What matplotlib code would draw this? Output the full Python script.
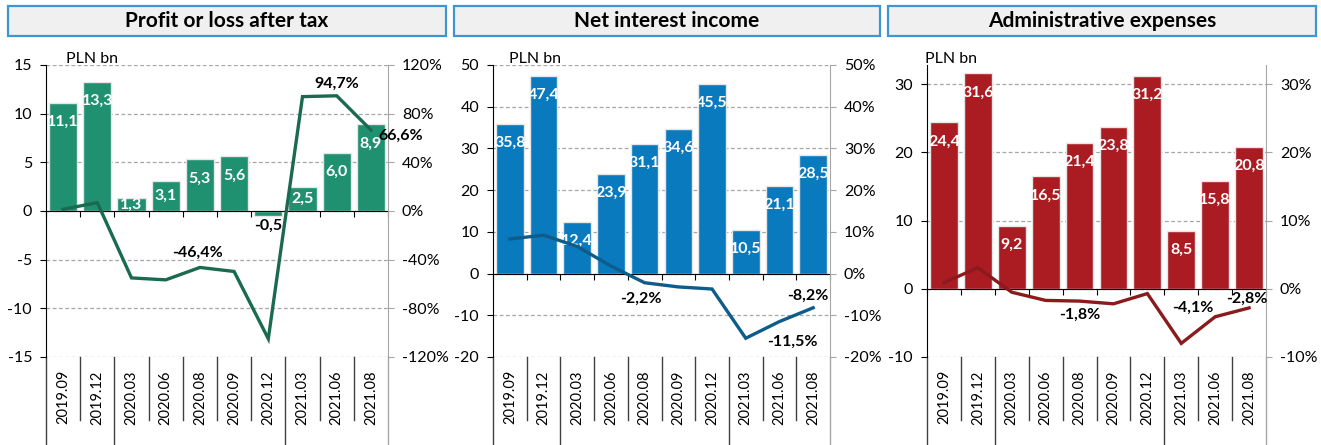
import numpy as np
import matplotlib
matplotlib.use("Agg")
import matplotlib.pyplot as plt
from matplotlib.patches import Rectangle

plt.rcParams['font.family'] = ['Lato', 'DejaVu Sans']

periods = ['2019.09', '2019.12', '2020.03', '2020.06', '2020.08',
           '2020.09', '2020.12', '2021.03', '2021.06', '2021.08']
titles = ['Profit or loss after tax', 'Net interest income', 'Administrative expenses']

profit = [11.1, 13.3, 1.3, 3.1, 5.3, 5.6, -0.5, 2.5, 6.0, 8.9]
profit_yoy = [1.4, 6.9, -55.0, -56.6, -46.4, -49.7, -105.0, 94.0, 94.7, 66.6]

nii = [35.8, 47.4, 12.4, 23.9, 31.1, 34.6, 45.5, 10.5, 21.1, 28.5]
nii_yoy = [8.3, 9.2, 6.5, 1.8, -2.2, -3.2, -3.7, -15.5, -11.5, -8.2]

admin = [24.4, 31.6, 9.2, 16.5, 21.4, 23.8, 31.2, 8.5, 15.8, 20.8]
admin_yoy = [0.9, 3.1, -0.5, -1.7, -1.8, -2.2, -0.7, -8.0, -4.1, -2.8]

# which line points get a label
profit_lbl = [4, 8, 9]
nii_lbl = [4, 8, 9]
admin_lbl = [4, 8, 9]

W, H = 1321, 445
fig = plt.figure(figsize=(W / 100, H / 100), dpi=100)


def fmt(v, pct=False):
    s = f"{v:.1f}".replace('.', ',')
    return s + '%' if pct else s


def panel(n, left_px, right_px, bars, yoy, lbl_idx, lbl_off, ylim, yticks, y2lim, y2ticks,
          bar_col, line_col, box, unit_x):
    top_px, bot_px = 65, 357
    ax = fig.add_axes([left_px / W, (H - bot_px) / H, (right_px - left_px) / W,
                       (bot_px - top_px) / H])
    x = np.arange(len(periods))
    ax.bar(x, bars, width=0.82, color=bar_col, edgecolor='#e6e6e6', linewidth=1.0, zorder=2)
    ax.set_xlim(-0.5, len(periods) - 0.5)
    ax.set_ylim(*ylim)
    ax.set_yticks(yticks)
    ax.set_yticklabels([str(t) for t in yticks])
    ax.tick_params(axis='y', direction='out', length=4, labelsize=11.5, pad=6, color='black')
    ax.yaxis.grid(True, linestyle=(0, (3, 2)), color='#a6a6a6', linewidth=0.9, zorder=0)
    ax.set_axisbelow(True)
    for s in ['top', 'right']:
        ax.spines[s].set_visible(False)
    ax.spines['left'].set_color('black')
    ax.spines['bottom'].set_position(('data', 0))
    ax.spines['bottom'].set_color('black')
    ax.spines['bottom'].set_zorder(4)
    ax.set_xticks(np.arange(-0.5, len(periods), 1.0))
    ax.set_xticklabels([])
    ax.tick_params(axis='x', direction='out', length=4, color='black')

    # category labels and separators below the plot
    tr = ax.get_xaxis_transform()
    for i, p in enumerate(periods):
        ax.text(i, -0.045, p, rotation=90, ha='center', va='top', fontsize=10.5,
                transform=tr, clip_on=False)
    groups = [-0.5, 1.5, 6.5, len(periods) - 0.5]
    for b in np.arange(-0.5, len(periods), 1.0):
        lo = -0.30 if b in groups else -0.216
        col = '#a6a6a6' if b == len(periods) - 0.5 else '#404040'
        ax.plot([b, b], [0, lo], color=col, lw=1.0, transform=tr, clip_on=False)

    # bar labels
    pxu = ax.transData.transform((0, 1))[1] - ax.transData.transform((0, 0))[1]
    for i, v in enumerate(bars):
        if v >= 0:
            off = -min(19, v * pxu / 2)
            ax.annotate(fmt(v), (i, v), xytext=(0, off), textcoords='offset pixels',
                        ha='center', va='center', color='white', fontsize=11.5,
                        fontweight='bold', zorder=5)
        else:
            ax.annotate(fmt(v), (i, v), xytext=(0, -10), textcoords='offset pixels',
                        ha='center', va='center', color='black', fontsize=11.5,
                        fontweight='bold', zorder=5)

    ax2 = ax.twinx()
    ax2.plot(x, yoy, color=line_col, lw=2.4, zorder=3, solid_joinstyle='miter')
    ax2.set_ylim(*y2lim)
    ax2.set_yticks(y2ticks)
    ax2.set_yticklabels([f"{t}%" for t in y2ticks])
    ax2.tick_params(axis='y', direction='out', length=4, labelsize=11.5, pad=6,
                    color='#a6a6a6')
    for s in ['top', 'left', 'bottom']:
        ax2.spines[s].set_visible(False)
    ax2.spines['right'].set_color('#a6a6a6')
    for i, (dx, dy, ha) in zip(lbl_idx, lbl_off):
        ax2.annotate(fmt(yoy[i], True), (i, yoy[i]), xytext=(dx, dy),
                     textcoords='offset pixels', ha=ha, va='center', fontsize=11.5,
                     fontweight='bold', color='black', zorder=6)

    fig.text(unit_x / W, (H - 59) / H, 'PLN bn', fontsize=11.5, ha='left', va='center')

    # title box
    bx0, bx1 = box
    fig.patches.append(Rectangle((bx0 / W, (H - 36) / H), (bx1 - bx0) / W, 30 / H,
                                 transform=fig.transFigure, facecolor='#f0f0f0',
                                 edgecolor='#3f95cf', linewidth=1.6))
    fig.text((bx0 + bx1) / 2 / W, (H - 21) / H, titles[n], ha='center', va='center',
             fontsize=15, fontweight='bold')


panel(0, 46, 388, profit, profit_yoy, profit_lbl,
      [(-2, 15, 'center'), (0, 12, 'center'), (7, -6, 'left')],
      (-15, 15), [-15, -10, -5, 0, 5, 10, 15], (-120, 120),
      [-120, -80, -40, 0, 40, 80, 120], '#1f9070', '#1a6a50', (8, 446), 66)
panel(1, 493, 830, nii, nii_yoy, nii_lbl,
      [(-4, -16, 'center'), (13, -20, 'center'), (-5, 12, 'center')],
      (-20, 50), [-20, -10, 0, 10, 20, 30, 40, 50], (-20, 50),
      [-20, -10, 0, 10, 20, 30, 40, 50], '#0a7abf', '#0d5c8a', (454, 880), 509)
panel(2, 927, 1266, admin, admin_yoy, admin_lbl,
      [(0, -14, 'center'), (-22, 9, 'center'), (-2, 9, 'center')],
      (-10, 32.83), [-10, 0, 10, 20, 30], (-10, 32.83),
      [-10, 0, 10, 20, 30], '#ab1c22', '#8a1a1c', (888, 1316), 925)

fig.savefig('out.png', dpi=100)
